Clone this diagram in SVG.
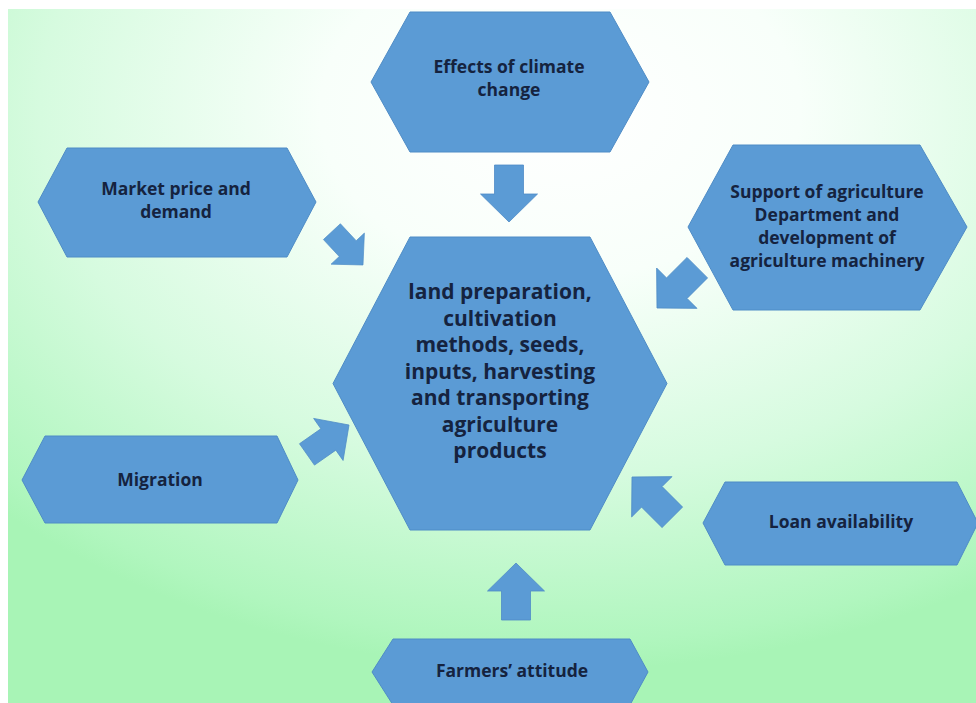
<svg xmlns="http://www.w3.org/2000/svg" width="976" height="703" viewBox="0 0 976 703">
  <defs>
    <!-- elliptical wash: white under the top node, green toward the lower edge -->
    <radialGradient id="bg" gradientUnits="userSpaceOnUse" cx="0" cy="0" r="1" gradientTransform="translate(560,110) scale(800,560)">
      <stop offset="0" stop-color="#ffffff"/>
      <stop offset="0.3" stop-color="#f8fffa"/>
      <stop offset="0.65" stop-color="#d6fbdf"/>
      <stop offset="0.95" stop-color="#b0f6be"/>
      <stop offset="1" stop-color="#a8f4b6"/>
    </radialGradient>
    <!-- block arrow pointing along +x, tip at the origin -->
    <path id="blockArrow" d="M-57,-14.5 H-28 V-28.5 L0,0 L-28,28.5 V14.5 H-57 Z"/>
  </defs>
  <style>
    .hex { fill: #5b9bd5; stroke: #4f8cc6; stroke-width: 1; }
    .arrow { fill: #5b9bd5; stroke: #4f8cc6; stroke-width: 0.8; }
    .label { font-family: "Open Sans", "Liberation Sans", sans-serif; font-weight: 700; font-size: 17.5px; fill: #15233f; text-anchor: middle; }
    .core { font-size: 21px; }
  </style>

  <!-- backdrop -->
  <rect x="0" y="0" width="976" height="703" fill="#ffffff"/>
  <rect x="8" y="9" width="968" height="694" fill="url(#bg)"/>

  <g id="connectors">
    <use href="#blockArrow" class="arrow" transform="translate(509,222) rotate(90)"/>
    <use href="#blockArrow" class="arrow" transform="translate(516,563) rotate(-90)"/>
    <use href="#blockArrow" class="arrow" transform="translate(363,265) rotate(47) scale(0.8)"/>
    <use href="#blockArrow" class="arrow" transform="translate(657,308) rotate(135)"/>
    <use href="#blockArrow" class="arrow" transform="translate(349,425) rotate(-35) scale(0.9)"/>
    <use href="#blockArrow" class="arrow" transform="translate(632,477) rotate(-135)"/>
  </g>

  <g id="climate">
    <polygon class="hex" points="371,82 410,12 610,12 649,82 610,152 410,152"/>
    <text class="label" x="509" y="73">Effects of climate</text>
    <text class="label" x="509" y="96">change</text>
  </g>

  <g id="market">
    <polygon class="hex" points="38,202 67,148 287,148 316,202 287,257 67,257"/>
    <text class="label" x="176" y="195">Market price and</text>
    <text class="label" x="176" y="218">demand</text>
  </g>

  <g id="support">
    <polygon class="hex" points="688,227 733,145 920,145 967,227 920,310 733,310"/>
    <text class="label" x="827" y="198">Support of agriculture</text>
    <text class="label" x="827" y="221">Department and</text>
    <text class="label" x="827" y="244">development of</text>
    <text class="label" x="827" y="267">agriculture machinery</text>
  </g>

  <g id="activities">
    <polygon class="hex" points="333,383.5 410,237 590,237 667,383.5 590,530 410,530"/>
    <text class="label core" x="500" y="299">land preparation,</text>
    <text class="label core" x="500" y="325.5">cultivation</text>
    <text class="label core" x="500" y="352">methods, seeds,</text>
    <text class="label core" x="500" y="378.5">inputs, harvesting</text>
    <text class="label core" x="500" y="405">and transporting</text>
    <text class="label core" x="500" y="431.5">agriculture</text>
    <text class="label core" x="500" y="458">products</text>
  </g>

  <g id="migration">
    <polygon class="hex" points="22,480 45,436 277,436 298,480 277,523 45,523"/>
    <text class="label" x="160" y="486">Migration</text>
  </g>

  <g id="loan">
    <polygon class="hex" points="703,523 725,482 957,482 978,523 957,565 725,565"/>
    <text class="label" x="841" y="528">Loan availability</text>
  </g>

  <g id="farmers">
    <polygon class="hex" points="372,672 393,639 630,639 648,672 630,705 393,705"/>
    <text class="label" x="512" y="677">Farmers’ attitude</text>
  </g>
</svg>
